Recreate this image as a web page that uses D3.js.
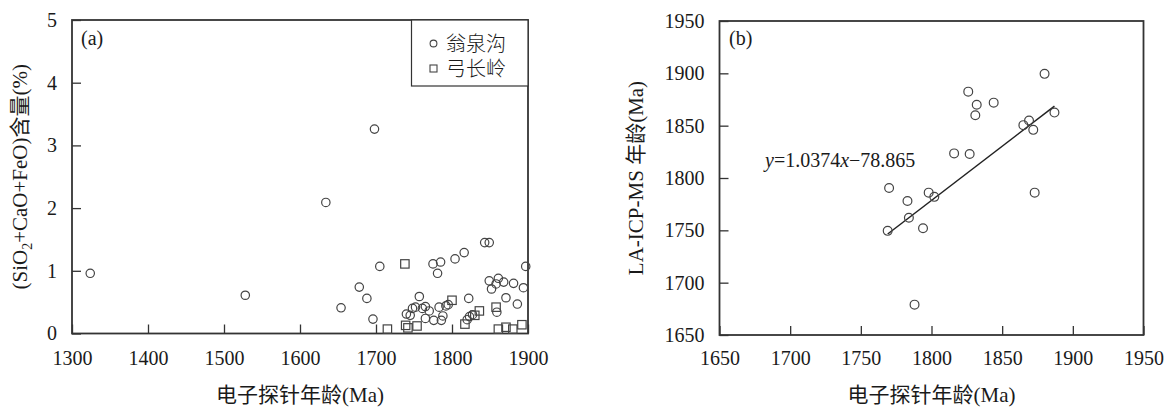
<!DOCTYPE html>
<html><head><meta charset="utf-8">
<script src="https://cdn.jsdelivr.net/npm/d3@7"></script>
<style>
body{margin:0;background:#fff}
text{font-family:"Liberation Serif","Noto Sans CJK SC",serif;fill:#1a1a1a}
</style>
</head><body>
<svg id="c" width="1170" height="408"></svg>
<script>
// ---- Panel (a) data: 翁泉沟 (circles)
const wqgX=[1324,1528,1634,1698,1654,1678,1688,1696,1705,1740,1745,1748,1752,1757,1761,1765,1765,1770,1775,1785,1781,1776,1783,1786,1788,1792,1795,1804,1816,1822,1820,1823,1827,1843,1849,1849,1852,1861,1858,1868,1859,1871,1881,1886,1894,1897];
const wqgY=[0.96,0.61,2.09,3.26,0.41,0.74,0.56,0.23,1.07,0.31,0.29,0.40,0.42,0.59,0.40,0.24,0.43,0.36,1.11,1.14,0.96,0.21,0.42,0.21,0.28,0.44,0.46,1.19,1.29,0.56,0.22,0.27,0.30,1.45,1.45,0.84,0.71,0.88,0.79,0.82,0.34,0.57,0.80,0.47,0.73,1.07];
// ---- Panel (a) data: 弓长岭 (squares)
const gclX=[1738,1715,1739,1742,1754,1800,1817,1830,1836,1858,1861,1871,1880,1892];
const gclY=[1.11,0.07,0.13,0.09,0.12,0.53,0.15,0.29,0.36,0.42,0.07,0.10,0.07,0.14];
// ---- Panel (b) data
const bX=[1769,1770,1783,1784,1788,1794,1798,1802,1816,1827,1826,1832,1831,1844,1865,1869,1872,1873,1880,1887];
const bY=[1749.5,1790.5,1778,1762,1679,1752,1786,1782,1823.5,1823,1882.5,1870,1860,1872,1850.5,1855,1846,1786,1899.5,1862.5];
// regression line as drawn
const fitX=[1769,1887];
const fitY=[1746.5,1868.6];
// ticks
const xTicksA=[1300,1400,1500,1600,1700,1800,1900];
const yTicksA=[0,1,2,3,4,5];
const ticksB=[1650,1700,1750,1800,1850,1900,1950];
const legendLabels=["翁泉沟","弓长岭"];
const equation="y=1.0374x−78.865";

const svg=d3.select("#c");
svg.append("rect").attr("width",1170).attr("height",408).attr("fill","#fff");
const FS=20, TFS=21;
const AX="#333", MK="#444";

function styleAxis(g){
  g.select(".domain").remove();
  g.selectAll(".tick line").attr("stroke",AX).attr("stroke-width",1.3);
  g.selectAll(".tick text").style("font-size",FS+"px").attr("fill","#1a1a1a");
}

// ================= Panel (a)
const xa=d3.scaleLinear().domain([1300,1900]).range([72,528]);
const ya=d3.scaleLinear().domain([0,5]).range([333.5,20]);
const ga=svg.append("g");
ga.append("g").attr("transform",`translate(0,${ya(0)})`)
  .call(d3.axisBottom(xa).tickValues(xTicksA).tickFormat(d3.format("d")).tickSize(-9).tickPadding(17))
  .call(styleAxis);
ga.append("g").attr("transform",`translate(${xa(1300)},0)`)
  .call(d3.axisLeft(ya).tickValues(yTicksA).tickFormat(d3.format("d")).tickSize(-9).tickPadding(15))
  .call(styleAxis);
ga.append("rect").attr("x",xa(1300)).attr("y",ya(5)).attr("width",xa(1900)-xa(1300)).attr("height",ya(0)-ya(5))
  .attr("fill","none").attr("stroke",AX).attr("stroke-width",1.8);

ga.append("g").selectAll("circle").data(wqgX).join("circle")
  .attr("cx",(d)=>xa(d)).attr("cy",(d,i)=>ya(wqgY[i])).attr("r",4.2)
  .attr("fill","none").attr("stroke",MK).attr("stroke-width",1.2);
const sq=8.4;
ga.append("g").selectAll("rect").data(gclX).join("rect")
  .attr("x",(d)=>xa(d)-sq/2).attr("y",(d,i)=>ya(gclY[i])-sq/2).attr("width",sq).attr("height",sq)
  .attr("fill","none").attr("stroke",MK).attr("stroke-width",1.2);

// legend
const lx0=411.5, ly0=ya(5), ly1=86;
ga.append("rect").attr("x",lx0).attr("y",ly0).attr("width",xa(1900)-lx0).attr("height",ly1-ly0)
  .attr("fill","#fff").attr("stroke",AX).attr("stroke-width",1.2);
ga.append("circle").attr("cx",433.5).attr("cy",43.5).attr("r",3.4).attr("fill","none").attr("stroke",MK).attr("stroke-width",1.1);
ga.append("rect").attr("x",430).attr("y",65).attr("width",7).attr("height",7).attr("fill","none").attr("stroke",MK).attr("stroke-width",1.1);
legendLabels.forEach((t,i)=>{
  ga.append("text").attr("x",446).attr("y",[43.5,68.5][i]).attr("dy","0.36em").style("font-size",FS+"px")
    .style("font-family","'Noto Sans CJK SC'").attr("font-weight",300).text(t);
});
ga.append("text").attr("x",81).attr("y",45).style("font-size",FS+"px").text("(a)");

// titles
ga.append("text").attr("x",(xa(1300)+xa(1900))/2).attr("y",402).attr("text-anchor","middle")
  .style("font-size",TFS+"px").text("电子探针年龄(Ma)");
const yt=ga.append("text").attr("transform",`translate(27,${(ya(0)+ya(5))/2}) rotate(-90)`).attr("text-anchor","middle")
  .style("font-size",TFS+"px");
yt.append("tspan").text("(SiO");
yt.append("tspan").attr("dy",5).style("font-size","14px").text("2");
yt.append("tspan").attr("dy",-5).text("+CaO+FeO)含量(%)");

// ================= Panel (b)
const xb=d3.scaleLinear().domain([1650,1950]).range([719.5,1143.5]);
const yb=d3.scaleLinear().domain([1650,1950]).range([335,21]);
const gb=svg.append("g");
gb.append("g").attr("transform",`translate(0,${yb(1650)})`)
  .call(d3.axisBottom(xb).tickValues(ticksB).tickFormat(d3.format("d")).tickSize(-9).tickPadding(16))
  .call(styleAxis);
gb.append("g").attr("transform",`translate(${xb(1650)},0)`)
  .call(d3.axisLeft(yb).tickValues(ticksB).tickFormat(d3.format("d")).tickSize(-9).tickPadding(15))
  .call(styleAxis);
gb.append("rect").attr("x",xb(1650)).attr("y",yb(1950)).attr("width",xb(1950)-xb(1650)).attr("height",yb(1650)-yb(1950))
  .attr("fill","none").attr("stroke",AX).attr("stroke-width",1.8);

gb.append("path").datum(fitX.map((x,i)=>[x,fitY[i]]))
  .attr("d",d3.line().x(d=>xb(d[0])).y(d=>yb(d[1])))
  .attr("stroke","#222").attr("stroke-width",1.5).attr("fill","none");
gb.append("g").selectAll("circle").data(bX).join("circle")
  .attr("cx",(d)=>xb(d)).attr("cy",(d,i)=>yb(bY[i])).attr("r",4.4)
  .attr("fill","none").attr("stroke",MK).attr("stroke-width",1.2);

gb.append("text").attr("x",729).attr("y",45).style("font-size",FS+"px").text("(b)");
const eq=gb.append("text").attr("x",765).attr("y",167).style("font-size",FS+"px");
eq.append("tspan").style("font-style","italic").text("y");
eq.append("tspan").text("=1.0374");
eq.append("tspan").style("font-style","italic").text("x");
eq.append("tspan").text("−78.865");

gb.append("text").attr("x",(xb(1650)+xb(1950))/2).attr("y",402).attr("text-anchor","middle")
  .style("font-size",TFS+"px").text("电子探针年龄(Ma)");
gb.append("text").attr("transform",`translate(643,${(yb(1650)+yb(1950))/2}) rotate(-90)`).attr("text-anchor","middle")
  .style("font-size",TFS+"px").text("LA-ICP-MS 年龄(Ma)");
</script>
</body></html>
